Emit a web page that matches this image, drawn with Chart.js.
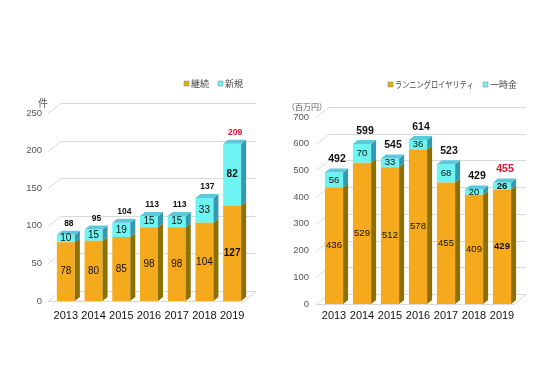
<!DOCTYPE html>
<html>
<head>
<meta charset="utf-8">
<script src="https://cdn.jsdelivr.net/npm/chart.js@4.4.1/dist/chart.umd.min.js"></script>
<style>
  html, body { margin: 0; padding: 0; background: #fff; }
  #wrap { position: relative; width: 547px; height: 392px; }
  .box { position: absolute; top: 0; height: 392px; }
</style>
</head>
<body>
<div id="wrap">
  <div class="box" style="left:0;width:270px"><canvas id="left-chart" width="270" height="392"></canvas></div>
  <div class="box" style="left:270px;width:277px"><canvas id="right-chart" width="277" height="392"></canvas></div>
</div>
<script>
// data
const years = ['2013', '2014', '2015', '2016', '2017', '2018', '2019'];
const keizoku = [78, 80, 85, 98, 98, 104, 127];   // 継続
const shinki = [10, 15, 19, 15, 15, 33, 82];      // 新規
const running = [436, 529, 512, 578, 455, 409, 429]; // ランニングロイヤリティ
const ichiji = [56, 70, 33, 36, 68, 20, 26];      // 一時金
const leftTicks = { min: 0, max: 250, step: 50 };
const rightTicks = { min: 0, max: 700, step: 100 };

const NUM_FONT = '"Liberation Sans", Arial, sans-serif';
const JP_FONT = '"Noto Sans CJK JP", sans-serif';

const orange = '#f5a91c', orangeSide = '#8c7000';
const cyan = '#6ef3f3', cyanSide = '#3399b3', cyanTop = '#5cc8dc';

const DX = 5, DY = 4;    // bar depth
const GX = 13, GY = 10;  // wall depth for the grid

function plugin3d(cfg) {
  return {
    id: 'bar3d',
    beforeDatasetsDraw(chart) {
      const { ctx, chartArea: a } = chart;
      const y = chart.scales.y;
      ctx.save();
      ctx.strokeStyle = '#d9d9d9';
      ctx.lineWidth = 1;
      y.ticks.forEach((t) => {
        const py = Math.round(y.getPixelForValue(t.value)) + 0.5;
        ctx.beginPath();
        ctx.moveTo(a.left - 4, py);
        ctx.lineTo(a.left - 4 + GX, py - GY);
        ctx.lineTo(a.right + 10, py - GY);
        ctx.stroke();
      });
      // floor edge
      const p0 = Math.round(y.getPixelForValue(0)) + 0.5;
      ctx.beginPath();
      ctx.moveTo(a.left - 4, p0);
      ctx.lineTo(a.right - 2, p0);
      ctx.lineTo(a.right + 10, p0 - GY);
      ctx.stroke();
      ctx.restore();
    },
    afterDatasetsDraw(chart) {
      const ctx = chart.ctx;
      const sets = chart.data.datasets;
      const last = sets.length - 1;
      ctx.save();
      sets.forEach((ds, i) => {
        chart.getDatasetMeta(i).data.forEach((b) => {
          const l = b.x - b.width / 2, r = b.x + b.width / 2;
          ctx.fillStyle = ds.sideColor;
          ctx.beginPath();
          ctx.moveTo(r, b.y);
          ctx.lineTo(r + DX, b.y - DY);
          ctx.lineTo(r + DX, b.base - DY);
          ctx.lineTo(r, b.base);
          ctx.closePath();
          ctx.fill();
          if (i === last) {
            ctx.fillStyle = ds.topColor;
            ctx.beginPath();
            ctx.moveTo(l, b.y);
            ctx.lineTo(l + DX, b.y - DY);
            ctx.lineTo(r + DX, b.y - DY);
            ctx.lineTo(r, b.y);
            ctx.closePath();
            ctx.fill();
          }
        });
      });

      // labels on segments
      ctx.textAlign = 'center';
      ctx.textBaseline = 'middle';
      const n = chart.data.labels.length;
      sets.forEach((ds, i) => {
        chart.getDatasetMeta(i).data.forEach((b, j) => {
          const bold = j === n - 1 ? 'bold ' : '';
          ctx.font = bold + cfg.segSize + 'px ' + NUM_FONT;
          ctx.fillStyle = '#111';
          ctx.fillText(String(ds.data[j]), b.x, (b.y + b.base) / 2);
        });
      });
      // totals
      const topMeta = chart.getDatasetMeta(last);
      topMeta.data.forEach((b, j) => {
        const total = sets.reduce((s, ds) => s + ds.data[j], 0);
        ctx.font = 'bold ' + cfg.totalSize + 'px ' + NUM_FONT;
        ctx.fillStyle = j === n - 1 ? '#e8102e' : '#111';
        ctx.fillText(String(total), b.x + 3, b.y - cfg.totalGap);
      });

      // legend
      let x = cfg.legendRight;
      ctx.textAlign = 'left';
      for (let i = sets.length - 1; i >= 0; i--) {
        const ds = sets[i];
        ctx.font = cfg.legendSize + 'px ' + JP_FONT;
        const w = ds.legendWidth || ctx.measureText(ds.label).width;
        x -= w;
        ctx.fillStyle = '#444';
        ctx.fillText(ds.label, x, cfg.legendY, w);
        x -= 7;
        ctx.fillStyle = ds.legendColor;
        ctx.fillRect(x, cfg.legendY - 3, 5, 5);
        ctx.strokeStyle = '#888';
        ctx.lineWidth = 0.5;
        ctx.strokeRect(x, cfg.legendY - 3, 5, 5);
        x -= 9;
      }

      // unit
      ctx.font = cfg.unitSize + 'px ' + JP_FONT;
      ctx.fillStyle = '#555';
      ctx.textAlign = 'center';
      ctx.fillText(cfg.unit, cfg.unitX, cfg.unitY, cfg.unitWidth);
      ctx.restore();
    }
  };
}

function makeChart(el, bottomData, topData, names, ticks, cfg) {
  return new Chart(el, {
    type: 'bar',
    data: {
      labels: years,
      datasets: [
        {
          label: names[0],
          data: bottomData,
          backgroundColor: orange,
          sideColor: orangeSide,
          legendColor: '#d8b400',
          legendWidth: cfg.legendWidths[0],
        },
        {
          label: names[1],
          data: topData,
          backgroundColor: cyan,
          sideColor: cyanSide,
          topColor: cyanTop,
          legendColor: cyan,
          legendWidth: cfg.legendWidths[1],
        },
      ],
    },
    options: {
      responsive: false,
      animation: false,
      devicePixelRatio: 1,
      layout: { padding: cfg.padding },
      datasets: { bar: { categoryPercentage: 1, barPercentage: 0.65, borderWidth: 0 } },
      plugins: { legend: { display: false }, tooltip: { enabled: false } },
      scales: {
        x: {
          stacked: true,
          grid: { display: false },
          border: { display: false },
          ticks: {
            color: '#111',
            font: { family: NUM_FONT, size: 11 },
            padding: cfg.xPad,
            maxRotation: 0,
            minRotation: 0,
            autoSkip: false,
          },
          afterFit: (s) => { s.height = cfg.xHeight; },
        },
        y: {
          stacked: true,
          min: ticks.min,
          max: ticks.max,
          grid: { display: false, drawTicks: false },
          border: { display: false },
          ticks: { stepSize: ticks.step, color: '#555', font: { family: NUM_FONT, size: 9.5 }, padding: cfg.yPad },
          afterFit: (s) => { s.width = cfg.yWidth; },
        },
      },
    },
    plugins: [plugin3d(cfg)],
  });
}

makeChart(document.getElementById('left-chart'), keizoku, shinki, ['継続', '新規'], leftTicks, {
  padding: { top: 113, right: 24, bottom: 0, left: 0 },
  xHeight: 91, xPad: 0, yWidth: 52, yPad: 10,
  segSize: 10, totalSize: 8.5, totalGap: 11,
  legendRight: 243, legendY: 84, legendSize: 9, legendWidths: [18, 18],
  unit: '件', unitX: 43, unitY: 103, unitSize: 10, unitWidth: 20,
});

makeChart(document.getElementById('right-chart'), running, ichiji, ['ランニングロイヤリティ', '一時金'], rightTicks, {
  padding: { top: 117, right: 31, bottom: 0, left: 0 },
  xHeight: 88, xPad: -3, yWidth: 50, yPad: 11,
  segSize: 9.5, totalSize: 10.5, totalGap: 13,
  legendRight: 247, legendY: 85, legendSize: 9, legendWidths: [79, 27],
  unit: '（百万円）', unitX: 37, unitY: 107, unitSize: 8, unitWidth: 46,
});
</script>
</body>
</html>
